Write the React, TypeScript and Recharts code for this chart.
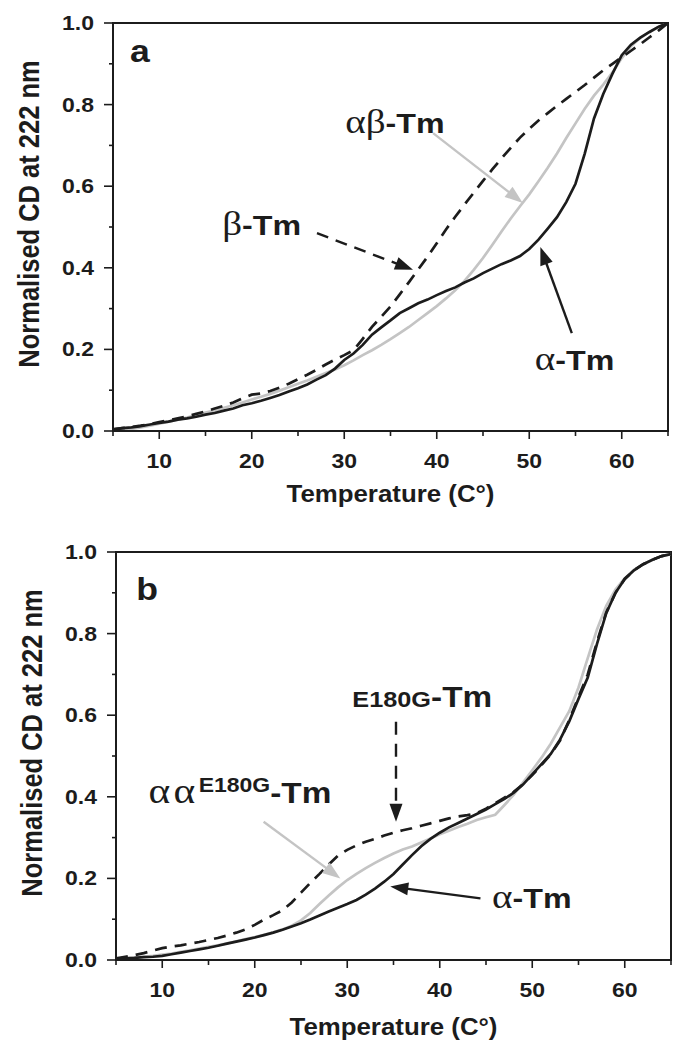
import { Line, LineChart, ReferenceArea, ReferenceDot, ReferenceLine, XAxis, YAxis } from 'recharts'

// temperature (°C), one reading per degree
const temps = [
  5, 6, 7, 8, 9, 10, 11, 12, 13, 14, 15, 16, 17, 18, 19, 20, 21, 22, 23, 24, 25, 26, 27, 28, 29, 30,
  31, 32, 33, 34, 35, 36, 37, 38, 39, 40, 41, 42, 43, 44, 45, 46, 47, 48, 49, 50, 51, 52, 53, 54, 55,
  56, 57, 58, 59, 60, 61, 62, 63, 64, 65,
]

// panel a
const alphaA = [
  0.004, 0.007, 0.009, 0.012, 0.016, 0.02, 0.023, 0.028, 0.031, 0.035, 0.04, 0.044, 0.05, 0.055, 0.063,
  0.068, 0.074, 0.081, 0.088, 0.097, 0.105, 0.114, 0.126, 0.137, 0.153, 0.174, 0.19, 0.211, 0.236, 0.254,
  0.271, 0.289, 0.301, 0.313, 0.322, 0.333, 0.343, 0.352, 0.364, 0.374, 0.387, 0.398, 0.409, 0.418, 0.429,
  0.446, 0.469, 0.496, 0.524, 0.561, 0.606, 0.68, 0.766, 0.826, 0.876, 0.921, 0.947, 0.964, 0.978, 0.991, 1.0,
]
const alphaBetaA = [
  0.0, 0.002, 0.005, 0.009, 0.013, 0.018, 0.023, 0.028, 0.033, 0.039, 0.045, 0.05, 0.057, 0.063, 0.07,
  0.077, 0.084, 0.091, 0.099, 0.107, 0.116, 0.124, 0.133, 0.142, 0.151, 0.161, 0.173, 0.186, 0.198, 0.211,
  0.225, 0.24, 0.255, 0.272, 0.289, 0.306, 0.325, 0.345, 0.368, 0.395, 0.424, 0.456, 0.489, 0.521, 0.551,
  0.58, 0.612, 0.645, 0.68, 0.718, 0.754, 0.79, 0.822, 0.849, 0.879, 0.914, 0.943, 0.963, 0.978, 0.99, 1.0,
]
const betaA = [
  0.004, 0.007, 0.01, 0.013, 0.017, 0.022, 0.026, 0.031, 0.036, 0.042, 0.048, 0.055, 0.062, 0.07, 0.08,
  0.089, 0.092, 0.098, 0.106, 0.116, 0.127, 0.138, 0.15, 0.163, 0.175, 0.186, 0.198, 0.226, 0.255, 0.28,
  0.305, 0.335, 0.365, 0.396, 0.427, 0.46, 0.494, 0.525, 0.555, 0.584, 0.613, 0.641, 0.668, 0.694, 0.719,
  0.741, 0.761, 0.779, 0.797, 0.814, 0.831, 0.848, 0.866, 0.884, 0.9, 0.916, 0.932, 0.948, 0.965, 0.982, 1.0,
]

// panel b
const alphaB = [
  0.003, 0.004, 0.005, 0.007, 0.008, 0.01, 0.014, 0.018, 0.022, 0.026, 0.03, 0.035, 0.04, 0.045, 0.05,
  0.055, 0.061, 0.067, 0.074, 0.082, 0.09, 0.099, 0.109, 0.119, 0.128, 0.137, 0.147, 0.16, 0.175, 0.192,
  0.211, 0.234, 0.257, 0.279, 0.297, 0.312, 0.325, 0.336, 0.347, 0.358, 0.369, 0.382, 0.395, 0.41, 0.43,
  0.455, 0.48, 0.505, 0.54, 0.585, 0.64, 0.692, 0.775, 0.85, 0.9, 0.934, 0.955, 0.97, 0.981, 0.99, 0.995,
]
const alphaMutB = [
  0.002, 0.004, 0.006, 0.008, 0.01, 0.013, 0.016, 0.02, 0.024, 0.028, 0.032, 0.036, 0.041, 0.046, 0.051,
  0.056, 0.062, 0.068, 0.075, 0.084, 0.097, 0.115, 0.137, 0.158, 0.178, 0.196, 0.211, 0.225, 0.238, 0.25,
  0.261, 0.271, 0.278, 0.288, 0.298, 0.308, 0.317, 0.326, 0.334, 0.343, 0.35, 0.356, 0.38, 0.405, 0.435,
  0.465, 0.496, 0.53, 0.57, 0.61, 0.668, 0.74, 0.81, 0.868, 0.908, 0.936, 0.956, 0.97, 0.981, 0.99, 0.995,
]
const mutB = [
  0.004, 0.008, 0.012, 0.017, 0.023, 0.029, 0.033, 0.036, 0.04, 0.044, 0.049, 0.054, 0.06, 0.067, 0.075,
  0.086, 0.099, 0.11, 0.122, 0.141, 0.165, 0.189, 0.211, 0.234, 0.256, 0.27, 0.281, 0.29, 0.297, 0.305,
  0.312, 0.318, 0.323, 0.329, 0.335, 0.341, 0.347, 0.352, 0.355, 0.36, 0.371, 0.384, 0.398, 0.412, 0.431,
  0.453, 0.478, 0.504, 0.538, 0.588, 0.645, 0.7, 0.78, 0.852, 0.9, 0.934, 0.955, 0.97, 0.981, 0.99, 0.995,
]

const xTicks = [5, 10, 15, 20, 25, 30, 35, 40, 45, 50, 55, 60, 65]
const xTickLabels = [10, 20, 30, 40, 50, 60]
const yTicks = [0, 0.1, 0.2, 0.3, 0.4, 0.5, 0.6, 0.7, 0.8, 0.9, 1.0]
const yTickLabels = [0, 0.2, 0.4, 0.6, 0.8, 1.0]

const rowsA = temps.map((t, i) => ({ t, alpha: alphaA[i], alphaBeta: alphaBetaA[i], beta: betaA[i] }))
const rowsB = temps.map((t, i) => ({ t, alpha: alphaB[i], alphaMut: alphaMutB[i], mut: mutB[i] }))

const INK = '#1c1c1c'
const GREY = '#c4c4c4'
const SANS = '"Liberation Sans", Arial, Helvetica, sans-serif'
const SERIF = '"Liberation Serif", "DejaVu Serif", serif'
const SX = 1.15 // the print is a little wider than it is tall

function XTick(props: any) {
  const { x, y, payload } = props
  const v = payload.value
  const labelled = xTickLabels.includes(v)
  return (
    <g>
      <line x1={x} x2={x} y1={y} y2={y + (labelled ? 8 : 5)} stroke={INK} strokeWidth={1.6} />
      {labelled && (
        <text
          transform={`translate(${x},${y + 37}) scale(${SX},1)`}
          textAnchor="middle"
          fontFamily={SANS}
          fontWeight="bold"
          fontSize={20}
          fill={INK}
        >
          {v}
        </text>
      )}
    </g>
  )
}

function YTick(props: any) {
  const { x, y, payload } = props
  const v = payload.value
  const labelled = yTickLabels.some((t) => Math.abs(t - v) < 1e-6)
  return (
    <g>
      <line x1={x - (labelled ? 9 : 4)} x2={x} y1={y} y2={y} stroke={INK} strokeWidth={1.6} />
      {labelled && (
        <text
          transform={`translate(${x - 19},${y + 7}) scale(${SX},1)`}
          textAnchor="end"
          fontFamily={SANS}
          fontWeight="bold"
          fontSize={20}
          fill={INK}
        >
          {v.toFixed(1)}
        </text>
      )}
    </g>
  )
}

const yTitle = (p: any) => {
  const vb = p.viewBox
  const cx = vb.x + 39
  const cy = vb.y + vb.height / 2 - 13
  return (
    <text
      transform={`translate(${cx},${cy}) scale(1.13,1) rotate(-90)`}
      textAnchor="middle"
      fontFamily={SANS}
      fontWeight="bold"
      fontSize={25.5}
      fill={INK}
    >
      Normalised CD at 222 nm
    </text>
  )
}

const xTitle = (dy: number) => (p: any) => {
  const vb = p.viewBox
  return (
    <text
      transform={`translate(${vb.x + vb.width / 2},${vb.y + dy}) scale(1.1,1)`}
      textAnchor="middle"
      fontFamily={SANS}
      fontWeight="bold"
      fontSize={23.5}
      fill={INK}
    >
      Temperature (C°)
    </text>
  )
}

// arrow drawn between two data points, head at the second one
const arrow = (color: string, dash?: string) => (p: any) => {
  const { x1, y1, x2, y2 } = p
  const len = Math.hypot(x2 - x1, y2 - y1)
  const ux = (x2 - x1) / len
  const uy = (y2 - y1) / len
  const bx = x2 - ux * 18
  const by = y2 - uy * 18
  return (
    <g>
      <line x1={x1} y1={y1} x2={bx + ux * 2} y2={by + uy * 2} stroke={color} strokeWidth={2.4} strokeDasharray={dash} />
      <polygon points={`${x2},${y2} ${bx - uy * 6.5},${by + ux * 6.5} ${bx + uy * 6.5},${by - ux * 6.5}`} fill={color} />
    </g>
  )
}

const note = (content: any) => (p: any) => (
  <text transform={`translate(${p.cx},${p.cy}) scale(${SX},1)`} fontFamily={SANS} fontWeight="bold" fill={INK}>
    {content}
  </text>
)

const greek = (s: string, size = 34) => (
  <tspan fontFamily={SERIF} fontWeight="normal" fontSize={size}>
    {s}
  </tspan>
)

export default function App() {
  const axisLine = { stroke: INK, strokeWidth: 2 }
  return (
    <div style={{ position: 'absolute', left: 0, top: 0, width: 683, height: 1049, background: '#fff' }}>
      <div style={{ position: 'absolute', left: 0, top: 0 }}>
        <LineChart width={683} height={530} data={rowsA} margin={{ top: 23, right: 15, bottom: 19, left: 0 }}>
          <XAxis
            dataKey="t"
            type="number"
            domain={[5, 65]}
            ticks={xTicks}
            interval={0}
            tick={XTick}
            tickLine={false}
            tickSize={0}
            tickMargin={0}
            height={80}
            axisLine={axisLine}
            label={xTitle(71)}
            allowDataOverflow
          />
          <YAxis
            type="number"
            domain={[0, 1]}
            ticks={yTicks}
            interval={0}
            tick={YTick}
            tickLine={false}
            tickSize={0}
            tickMargin={0}
            width={113}
            axisLine={axisLine}
            label={yTitle}
            allowDataOverflow
          />
          <ReferenceArea x1={5} x2={65} y1={0} y2={1} fill="none" stroke={INK} strokeWidth={2} />
          <Line type="linear" dataKey="alphaBeta" stroke={GREY} strokeWidth={2.7} dot={false} activeDot={false} isAnimationActive={false} />
          <Line type="linear" dataKey="beta" stroke={INK} strokeWidth={2.7} strokeDasharray="12 8" dot={false} activeDot={false} isAnimationActive={false} />
          <Line type="linear" dataKey="alpha" stroke={INK} strokeWidth={2.7} dot={false} activeDot={false} isAnimationActive={false} />

          <ReferenceDot x={6.84} y={0.904} shape={note(<tspan fontSize={31}>a</tspan>)} />
          <ReferenceDot x={16.8} y={0.48} shape={note(<>{greek('β')}<tspan fontSize={28}>-Tm</tspan></>)} />
          <ReferenceDot x={30.1} y={0.73} shape={note(<>{greek('αβ')}<tspan fontSize={28}>-Tm</tspan></>)} />
          <ReferenceDot x={50.6} y={0.15} shape={note(<>{greek('α')}<tspan fontSize={28}>-Tm</tspan></>)} />
          <ReferenceLine segment={[{ x: 27.05, y: 0.485 }, { x: 37.43, y: 0.395 }]} shape={arrow(INK, '12 8')} />
          <ReferenceLine segment={[{ x: 39.6, y: 0.73 }, { x: 49.3, y: 0.559 }]} shape={arrow(GREY)} />
          <ReferenceLine segment={[{ x: 54.6, y: 0.24 }, { x: 51.2, y: 0.451 }]} shape={arrow(INK)} />
        </LineChart>
      </div>

      <div style={{ position: 'absolute', left: 0, top: 530 }}>
        <LineChart width={683} height={519} data={rowsB} margin={{ top: 22, right: 12, bottom: 9, left: 3 }}>
          <XAxis
            dataKey="t"
            type="number"
            domain={[5, 65]}
            ticks={xTicks}
            interval={0}
            tick={XTick}
            tickLine={false}
            tickSize={0}
            tickMargin={0}
            height={80}
            axisLine={axisLine}
            label={xTitle(75)}
            allowDataOverflow
          />
          <YAxis
            type="number"
            domain={[0, 1]}
            ticks={yTicks}
            interval={0}
            tick={YTick}
            tickLine={false}
            tickSize={0}
            tickMargin={0}
            width={113}
            axisLine={axisLine}
            label={yTitle}
            allowDataOverflow
          />
          <ReferenceArea x1={5} x2={65} y1={0} y2={1} fill="none" stroke={INK} strokeWidth={2} />
          <Line type="linear" dataKey="alphaMut" stroke={GREY} strokeWidth={2.7} dot={false} activeDot={false} isAnimationActive={false} />
          <Line type="linear" dataKey="mut" stroke={INK} strokeWidth={2.7} strokeDasharray="12 8" dot={false} activeDot={false} isAnimationActive={false} />
          <Line type="linear" dataKey="alpha" stroke={INK} strokeWidth={2.7} dot={false} activeDot={false} isAnimationActive={false} />

          <ReferenceDot x={7.19} y={0.882} shape={note(<tspan fontSize={31}>b</tspan>)} />
          <ReferenceDot
            x={30.55}
            y={0.62}
            shape={note(
              <>
                <tspan fontSize={22}>E180G</tspan>
                <tspan fontSize={29}>-Tm</tspan>
              </>
            )}
          />
          <ReferenceDot
            x={8.5}
            y={0.385}
            shape={note(
              <>
                <tspan fontFamily={SERIF} fontWeight="normal" fontSize={36} letterSpacing={3}>
                  αα
                </tspan>
                <tspan fontSize={20} dy={-11}>
                  E180G
                </tspan>
                <tspan fontSize={29} dy={11}>
                  -Tm
                </tspan>
              </>
            )}
          />
          <ReferenceDot x={45.65} y={0.127} shape={note(<>{greek('α')}<tspan fontSize={28}>-Tm</tspan></>)} />
          <ReferenceLine segment={[{ x: 35.27, y: 0.584 }, { x: 35.27, y: 0.339 }]} shape={arrow(INK, '13 9')} />
          <ReferenceLine segment={[{ x: 20.96, y: 0.339 }, { x: 29.25, y: 0.2 }]} shape={arrow(GREY)} />
          <ReferenceLine segment={[{ x: 44.4, y: 0.151 }, { x: 34.65, y: 0.18 }]} shape={arrow(INK)} />
        </LineChart>
      </div>
    </div>
  )
}
